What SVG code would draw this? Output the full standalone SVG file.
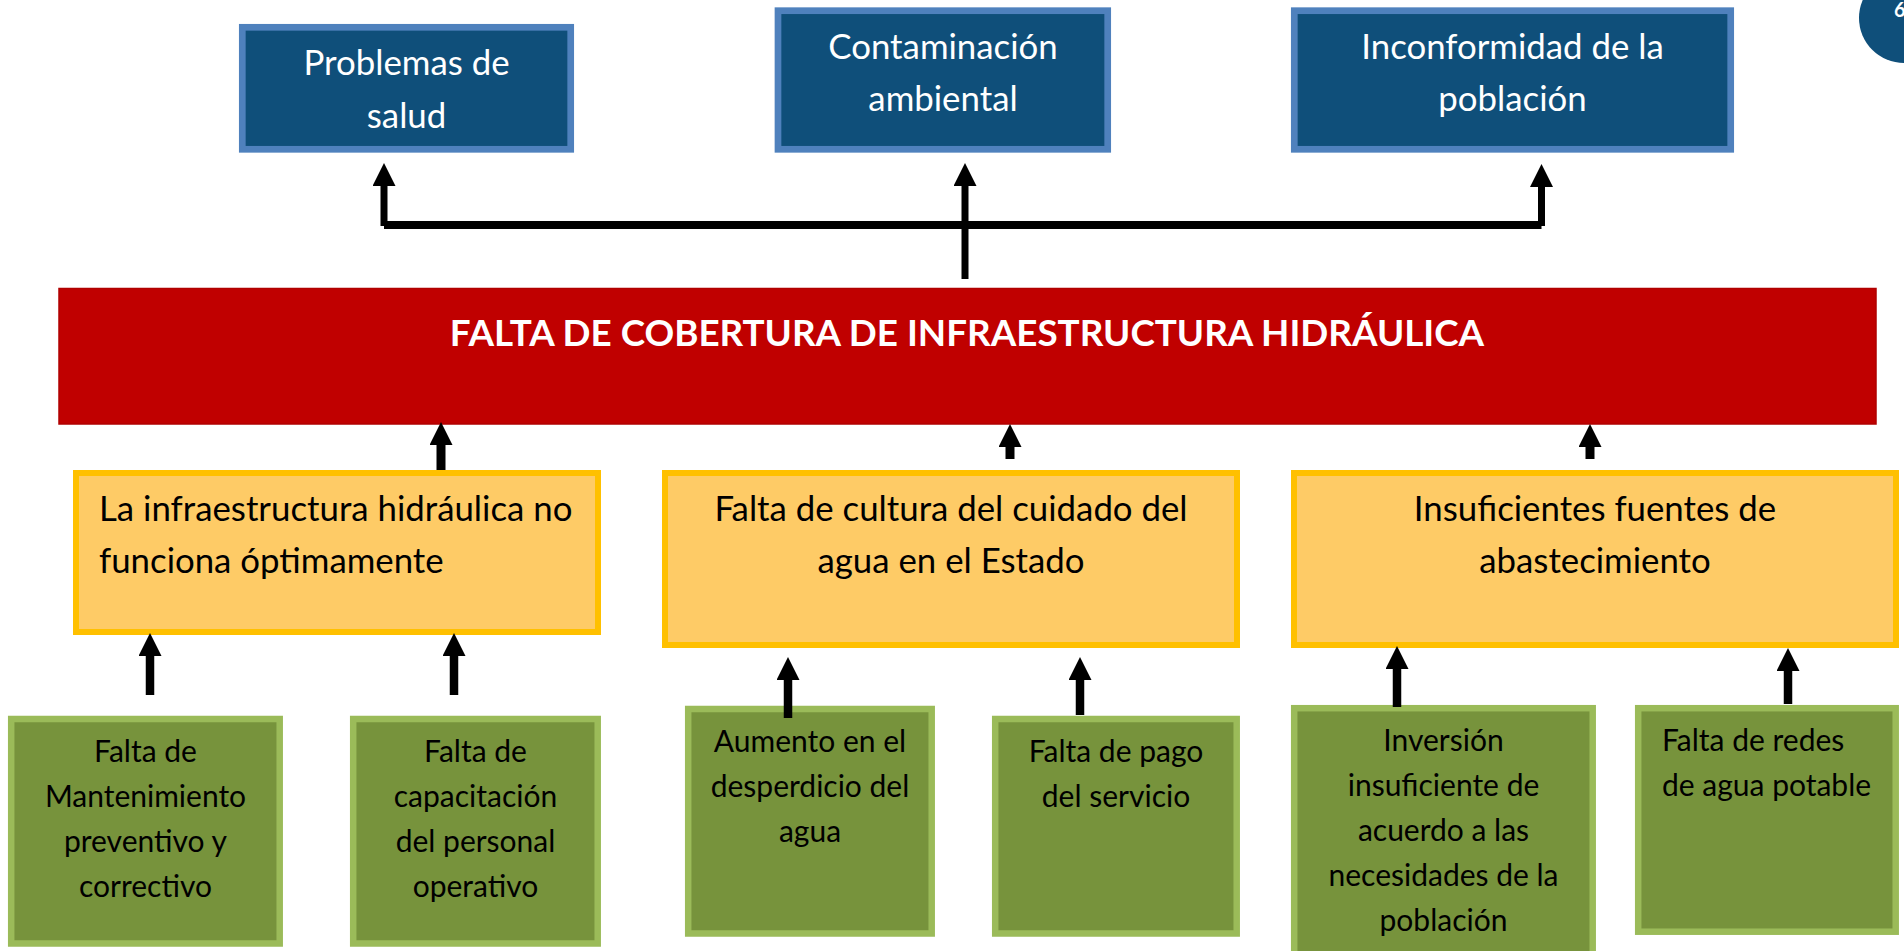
<svg xmlns="http://www.w3.org/2000/svg" width="1904" height="951" viewBox="0 0 1904 951">
<defs>
<style>
.eff rect{fill:#0F4F7A;stroke:#4F81BD;stroke-width:6.7}
.eff text{fill:#FFFFFF;font-family:Lato,"Liberation Sans",sans-serif;font-size:34.8px;text-anchor:middle}
.cause rect{fill:#FECB66;stroke:#FFC000;stroke-width:6}
.cause text{fill:#000000;font-family:Lato,"Liberation Sans",sans-serif;font-size:34.8px;text-anchor:middle}
.sub rect{fill:#77933C;stroke:#9BBB59;stroke-width:6.5}
.sub text{fill:#000000;font-family:Lato,"Liberation Sans",sans-serif;font-size:30px;text-anchor:middle}
.core rect{fill:#C00000;stroke:#B00000;stroke-width:1.5}
.core text{fill:#FFFFFF;font-family:Lato,"Liberation Sans",sans-serif;font-size:36.8px;font-weight:bold;text-anchor:middle}
.conn{stroke:#000000;fill:none}
</style>
<marker id="ah" markerUnits="userSpaceOnUse" viewBox="0 0 23 23" markerWidth="23" markerHeight="23" refX="0" refY="11.5" orient="auto">
<path d="M0,0 L23,11.5 L0,23 z" fill="#000000"/>
</marker>
</defs>
<rect x="0" y="0" width="1904" height="951" fill="#FFFFFF"/>

<g id="page-number">
<circle cx="1904" cy="18" r="45" fill="#0F4F7A"/>
<text x="1894" y="17" fill="#FFFFFF" font-family="Lato,'Liberation Sans',sans-serif" font-size="20" font-weight="bold">6</text>
</g>

<g id="effect-salud" class="eff">
<rect x="242.3" y="27.3" width="328.4" height="122"/>
<text x="406.5" y="75">Problemas de</text>
<text x="406.5" y="128">salud</text>
</g>
<g id="effect-contaminacion" class="eff">
<rect x="778" y="10.7" width="329.7" height="138.6"/>
<text x="943" y="59.3">Contaminación</text>
<text x="943" y="111">ambiental</text>
</g>
<g id="effect-inconformidad" class="eff">
<rect x="1294.3" y="10.7" width="436.4" height="138.6"/>
<text x="1512.5" y="59.3">Inconformidad de la</text>
<text x="1512.5" y="111">población</text>
</g>

<g id="problem" class="core">
<rect x="59" y="288.5" width="1817" height="135.5"/>
<text x="967" y="346">FALTA DE COBERTURA DE INFRAESTRUCTURA HIDRÁULICA</text>
</g>

<g id="cause-infraestructura" class="cause">
<rect x="76" y="473" width="522" height="159"/>
<text x="99" y="520.7" style="text-anchor:start">La infraestructura hidráulica no</text>
<text x="99" y="573" style="text-anchor:start">funciona óptimamente</text>
</g>
<g id="cause-cultura" class="cause">
<rect x="665" y="473" width="572" height="172"/>
<text x="951" y="520.7">Falta de cultura del cuidado del</text>
<text x="951" y="573">agua en el Estado</text>
</g>
<g id="cause-fuentes" class="cause">
<rect x="1294" y="473" width="602" height="172"/>
<text x="1595" y="520.7">Insuficientes fuentes de</text>
<text x="1595" y="573">abastecimiento</text>
</g>

<g id="sub-mantenimiento" class="sub">
<rect x="11.2" y="719" width="268.5" height="224.5"/>
<text x="145.5" y="761.7">Falta de</text>
<text x="145.5" y="806.7">Mantenimiento</text>
<text x="145.5" y="851.7">preventivo y</text>
<text x="145.5" y="896.7">correctivo</text>
</g>
<g id="sub-capacitacion" class="sub">
<rect x="353.2" y="719" width="244.5" height="224.5"/>
<text x="475.5" y="761.7">Falta de</text>
<text x="475.5" y="806.7">capacitación</text>
<text x="475.5" y="851.7">del personal</text>
<text x="475.5" y="896.7">operativo</text>
</g>
<g id="sub-desperdicio" class="sub">
<rect x="688.2" y="709" width="243.5" height="224.5"/>
<text x="810" y="751.7">Aumento en el</text>
<text x="810" y="796.7">desperdicio del</text>
<text x="810" y="841.7">agua</text>
</g>
<g id="sub-pago" class="sub">
<rect x="995.2" y="719" width="241.5" height="214.5"/>
<text x="1116" y="761.7">Falta de pago</text>
<text x="1116" y="806.7">del servicio</text>
</g>
<g id="sub-inversion" class="sub">
<rect x="1294.2" y="708.2" width="298.5" height="260"/>
<text x="1443.5" y="751">Inversión</text>
<text x="1443.5" y="796">insuficiente de</text>
<text x="1443.5" y="841">acuerdo a las</text>
<text x="1443.5" y="886">necesidades de la</text>
<text x="1443.5" y="931">población</text>
</g>
<g id="sub-redes" class="sub">
<rect x="1638.2" y="708.2" width="257.5" height="223.5"/>
<text x="1662" y="751" style="text-anchor:start">Falta de redes</text>
<text x="1662" y="796" style="text-anchor:start">de agua potable</text>
</g>

<g id="connectors" class="conn">
<path d="M384,225 H1541.5" stroke-width="8"/>
<path d="M965,279 V186" stroke-width="7" marker-end="url(#ah)"/>
<path d="M384,226 V186" stroke-width="7" marker-end="url(#ah)"/>
<path d="M1541.5,226 V187" stroke-width="7" marker-end="url(#ah)"/>
<path d="M441,470 V445" stroke-width="9" marker-end="url(#ah)"/>
<path d="M1010,459 V447" stroke-width="9" marker-end="url(#ah)"/>
<path d="M1590,459 V447" stroke-width="9" marker-end="url(#ah)"/>
<path d="M150,695 V656" stroke-width="8.5" marker-end="url(#ah)"/>
<path d="M454,695 V656" stroke-width="8.5" marker-end="url(#ah)"/>
<path d="M788,718 V680" stroke-width="8.5" marker-end="url(#ah)"/>
<path d="M1080,715 V680" stroke-width="8.5" marker-end="url(#ah)"/>
<path d="M1397,707 V669" stroke-width="8.5" marker-end="url(#ah)"/>
<path d="M1788,704 V671" stroke-width="8.5" marker-end="url(#ah)"/>
</g>
</svg>
